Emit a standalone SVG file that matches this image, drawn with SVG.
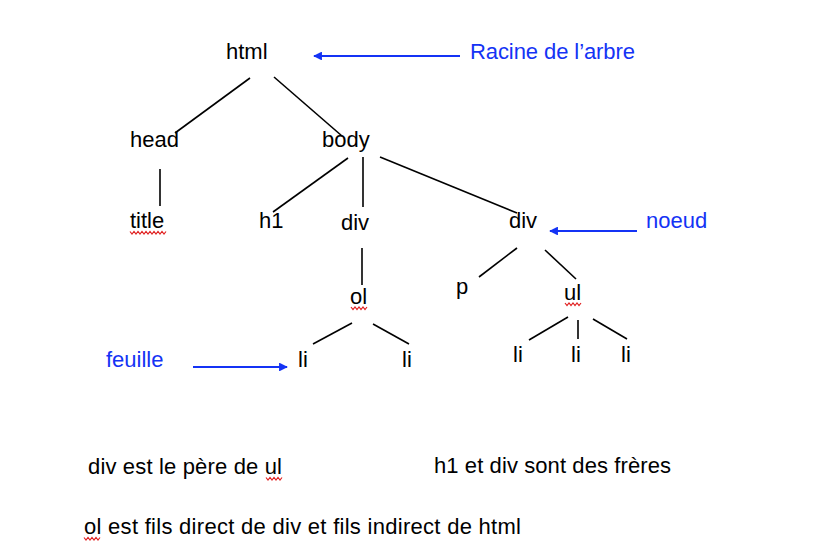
<svg xmlns="http://www.w3.org/2000/svg" width="820" height="560" viewBox="0 0 820 560">
<defs>
<style>
text{font-family:"Liberation Sans",Arial,sans-serif;font-size:22px;fill:#000}
.lbl{fill:#1433f5}
.edge{stroke:#000;stroke-width:1.6;fill:none}
.ptr{stroke:#1433f5;stroke-width:2.2;fill:none}
.sq{stroke:#e02020;stroke-width:1.2;fill:none}
</style>
<marker id="ah" viewBox="0 0 10 10" refX="9" refY="5" markerWidth="4" markerHeight="4" orient="auto" markerUnits="strokeWidth">
<path d="M0,0 L10,5 L0,10 z" fill="#1433f5"/>
</marker>
</defs>
<rect width="820" height="560" fill="#fff"/>
<g id="connectors">
<line class="edge" x1="250" y1="78" x2="175" y2="133"/>
<line class="edge" x1="274" y1="77" x2="342" y2="136"/>
<line class="edge" x1="160" y1="169" x2="160" y2="206"/>
<line class="edge" x1="348" y1="158" x2="273" y2="212"/>
<line class="edge" x1="363" y1="157" x2="363" y2="207"/>
<line class="edge" x1="380" y1="157" x2="517" y2="213"/>
<line class="edge" x1="517" y1="248" x2="479" y2="277"/>
<line class="edge" x1="545" y1="250" x2="576" y2="279"/>
<line class="edge" x1="362" y1="248" x2="362" y2="285"/>
<line class="edge" x1="352" y1="323" x2="313" y2="344"/>
<line class="edge" x1="373" y1="324" x2="409" y2="344"/>
<line class="edge" x1="568" y1="317" x2="529" y2="340"/>
<line class="edge" x1="578" y1="320" x2="578" y2="339"/>
<line class="edge" x1="593" y1="319" x2="627" y2="339"/>
</g>
<g id="annotations">
<line class="ptr" x1="460" y1="56" x2="314" y2="56" marker-end="url(#ah)"/>
<text class="lbl" x="470" y="59" textLength="165">Racine de l’arbre</text>
<line class="ptr" x1="637" y1="231" x2="550" y2="231" marker-end="url(#ah)"/>
<text class="lbl" x="646" y="228">noeud</text>
<line class="ptr" x1="193" y1="367" x2="287" y2="367" marker-end="url(#ah)"/>
<text class="lbl" x="106" y="367">feuille</text>
</g>
<g id="n-html"><text x="226" y="59">html</text></g>
<g id="n-head"><text x="130" y="147">head</text></g>
<g id="n-body"><text x="322" y="147">body</text></g>
<g id="n-title"><text x="130" y="228">title</text><path class="sq" d="M130,231.5 l2,2.5 l2,-2.5 l2,2.5 l2,-2.5 l2,2.5 l2,-2.5 l2,2.5 l2,-2.5 l2,2.5 l2,-2.5 l2,2.5 l2,-2.5 l2,2.5 l2,-2.5 l2,2.5 l2,-2.5 l2,2.5 l2,-2.5"/></g>
<g id="n-h1"><text x="259" y="228">h1</text></g>
<g id="n-div1"><text x="341" y="230">div</text></g>
<g id="n-div2"><text x="509" y="228">div</text></g>
<g id="n-ol"><text x="350" y="304">ol</text><path class="sq" d="M351,307 l2,2.5 l2,-2.5 l2,2.5 l2,-2.5 l2,2.5 l2,-2.5 l2,2.5 l2,-2.5"/></g>
<g id="n-p"><text x="456" y="294">p</text></g>
<g id="n-ul"><text x="564" y="300">ul</text><path class="sq" d="M565,303 l2,2.5 l2,-2.5 l2,2.5 l2,-2.5 l2,2.5 l2,-2.5 l2,2.5 l2,-2.5"/></g>
<g id="n-li1"><text x="298" y="367">li</text></g>
<g id="n-li2"><text x="402" y="367">li</text></g>
<g id="n-li3"><text x="513" y="362">li</text></g>
<g id="n-li4"><text x="571" y="362">li</text></g>
<g id="n-li5"><text x="621" y="362">li</text></g>
<g id="notes">
<text x="88" y="474" textLength="194">div est le père de ul</text>
<path class="sq" d="M266,477.5 l2,2.5 l2,-2.5 l2,2.5 l2,-2.5 l2,2.5 l2,-2.5 l2,2.5 l2,-2.5"/>
<text x="434" y="473" textLength="237">h1 et div sont des frères</text>
<text x="84" y="534" textLength="437">ol est fils direct de div et fils indirect de html</text>
<path class="sq" d="M84,537.5 l2,2.5 l2,-2.5 l2,2.5 l2,-2.5 l2,2.5 l2,-2.5 l2,2.5 l2,-2.5"/>
</g>
</svg>
